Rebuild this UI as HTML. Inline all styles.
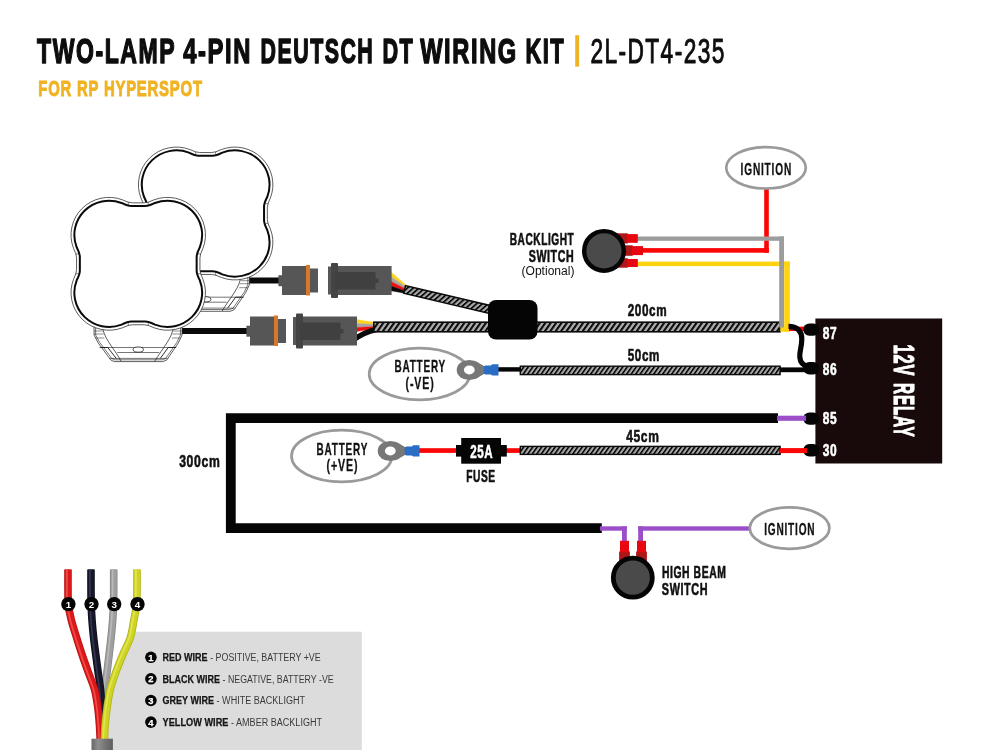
<!DOCTYPE html>
<html lang="en"><head><meta charset="utf-8"><title>Two-Lamp 4-Pin Deutsch DT Wiring Kit</title>
<style>html,body{margin:0;padding:0;background:#fff}body{width:1000px;height:750px;overflow:hidden}svg{display:block;will-change:transform}text{font-family:"Liberation Sans",sans-serif}</style>
</head><body>
<svg width="1000" height="750" viewBox="0 0 1000 750">
<defs>
<pattern id="b1" width="5.4" height="14" patternUnits="userSpaceOnUse" patternTransform="skewX(-35)">
<rect width="5.4" height="14" fill="#a9a9a9"/><rect x="0" width="2.48" height="14" fill="#0a0a0a"/></pattern>
<pattern id="b2" width="4.5" height="14" patternUnits="userSpaceOnUse" patternTransform="skewX(-35)">
<rect width="4.5" height="14" fill="#a9a9a9"/><rect x="0" width="2.07" height="14" fill="#0a0a0a"/></pattern>
<pattern id="b3" width="4.7" height="14" patternUnits="userSpaceOnUse" patternTransform="skewX(-35)">
<rect width="4.7" height="14" fill="#a9a9a9"/><rect x="0" width="2.16" height="14" fill="#0a0a0a"/></pattern>
</defs>
<rect width="1000" height="750" fill="#fff"/>
<text x="37.1" y="62.7" font-size="35.2" font-weight="bold" fill="#0d0d0d" text-anchor="start" textLength="139.1" lengthAdjust="spacingAndGlyphs" letter-spacing="2.4" stroke="#0d0d0d" stroke-width="1.5" stroke-linejoin="round">TWO-LAMP</text>
<text x="183.20000000000002" y="62.7" font-size="35.2" font-weight="bold" fill="#0d0d0d" text-anchor="start" textLength="68.8" lengthAdjust="spacingAndGlyphs" letter-spacing="2.4" stroke="#0d0d0d" stroke-width="1.5" stroke-linejoin="round">4-PIN</text>
<text x="260.59999999999997" y="62.7" font-size="35.2" font-weight="bold" fill="#0d0d0d" text-anchor="start" textLength="113.6" lengthAdjust="spacingAndGlyphs" letter-spacing="2.4" stroke="#0d0d0d" stroke-width="1.5" stroke-linejoin="round">DEUTSCH</text>
<text x="382.4" y="62.7" font-size="35.2" font-weight="bold" fill="#0d0d0d" text-anchor="start" textLength="31.8" lengthAdjust="spacingAndGlyphs" letter-spacing="2.4" stroke="#0d0d0d" stroke-width="1.5" stroke-linejoin="round">DT</text>
<text x="420.2" y="62.7" font-size="35.2" font-weight="bold" fill="#0d0d0d" text-anchor="start" textLength="97.6" lengthAdjust="spacingAndGlyphs" letter-spacing="2.4" stroke="#0d0d0d" stroke-width="1.5" stroke-linejoin="round">WIRING</text>
<text x="525.4" y="62.7" font-size="35.2" font-weight="bold" fill="#0d0d0d" text-anchor="start" textLength="39.8" lengthAdjust="spacingAndGlyphs" letter-spacing="2.4" stroke="#0d0d0d" stroke-width="1.5" stroke-linejoin="round">KIT</text>
<rect x="575.2" y="35.2" width="3.9" height="31.4" fill="#f0b323"/>
<text x="590.4" y="62.7" font-size="35.2" font-weight="normal" fill="#0d0d0d" text-anchor="start" textLength="135.4" lengthAdjust="spacingAndGlyphs" letter-spacing="2.2" stroke="#0d0d0d" stroke-width="1.0" stroke-linejoin="round">2L-DT4-235</text>
<text x="38.3" y="96.3" font-size="22.7" font-weight="bold" fill="#f0b323" text-anchor="start" textLength="164.5" lengthAdjust="spacingAndGlyphs" letter-spacing="1.2" stroke="#f0b323" stroke-width="1.0" stroke-linejoin="round">FOR RP HYPERSPOT</text>
<path d="M131.6,631.7 L130.4,637.3 L122.8,654.7 L115.9,672 L110.3,689.3 L107.2,706.7 L105.2,724 L104.4,750 L361.8,750 L361.8,631.7Z" fill="#dcdcdc"/>
<rect x="248" y="277.5" width="32" height="6" fill="#0a0a0a"/>
<g fill="#fff" stroke="#1a1a1a" stroke-width="0.7" stroke-linejoin="round">
<path d="M161.45,270.7 L161.45,284.7 L165.65,292.7 L178.15,309.7 L181.65,311.3 L230.15,311.3 L234.15,309.7 L245.65,292.7 L249.45,284.7 L249.45,270.7Z"/>
<path d="M163.05,274.7 L163.05,284.7 L167.05,292.09999999999997 L179.35,308.3 L182.05,309.5 L229.65,309.5 L232.95000000000002,308.3 L244.25,292.09999999999997 L247.85000000000002,284.7 L247.85000000000002,274.7" fill="none" stroke-width="0.6"/>
<path d="M170.05,275.7 C170.05,286.7 180.65,296.7 188.65,311.09999999999997" fill="none"/>
<path d="M240.65,275.7 C240.65,286.7 230.65,296.7 222.05,311.09999999999997" fill="none"/>
<path d="M169.05,297.2 L241.65,297.2 M184.65,302.2 L226.65,302.2 M177.05,308.09999999999997 L234.65,308.09999999999997" fill="none" stroke-width="0.6"/>
<path d="M161.65,280.7 h8.6 M161.65,283.7 h9.4 M163.05,287.7 h8.6 M249.25,280.7 h-8.6 M249.25,283.7 h-9.4 M247.85000000000002,287.7 h-8.6" fill="none" stroke-width="0.5"/>
<path d="M167.05,297.2 L175.15,297.2 L183.65,308.09999999999997 M243.65,297.2 L235.65,297.2 L227.65,308.09999999999997" fill="none" stroke-width="0.9"/>
<ellipse cx="205.65" cy="299.3" rx="5.2" ry="2.6" stroke-width="0.8"/>
</g>
<g transform="translate(205.65,213.5) scale(1,0.988) translate(-205.65,-213.5)">
<path d="M211.66,151.80Q215.16,151.80 221.44,148.74A38.00,38.00 0 0 1 270.41,197.71Q267.35,203.99 267.35,207.49L267.35,219.51Q267.35,223.01 270.41,229.29A38.00,38.00 0 0 1 221.44,278.26Q215.16,275.20 211.66,275.20L199.64,275.20Q196.14,275.20 189.86,278.26A38.00,38.00 0 0 1 140.89,229.29Q143.95,223.01 143.95,219.51L143.95,207.49Q143.95,203.99 140.89,197.71A38.00,38.00 0 0 1 189.86,148.74Q196.14,151.80 199.64,151.80Z" fill="#fff" stroke="#333" stroke-width="0.8" stroke-linejoin="round"/>
<path d="M212.60,155.10Q216.10,155.10 222.33,151.94A34.70,34.70 0 0 1 267.21,196.82Q264.05,203.05 264.05,206.55L264.05,220.45Q264.05,223.95 267.21,230.18A34.70,34.70 0 0 1 222.33,275.06Q216.10,271.90 212.60,271.90L198.70,271.90Q195.20,271.90 188.97,275.06A34.70,34.70 0 0 1 144.09,230.18Q147.25,223.95 147.25,220.45L147.25,206.55Q147.25,203.05 144.09,196.82A34.70,34.70 0 0 1 188.97,151.94Q195.20,155.10 198.70,155.10Z" fill="#fff" stroke="#0a0a0a" stroke-width="2" stroke-linejoin="round"/>
<path d="M195.65,151.0v3 M215.65,151.0v3 M195.65,276.0v-3 M215.65,276.0v-3 M143.15,203.5h3 M143.15,223.5h3 M268.15,203.5h-3 M268.15,223.5h-3" stroke="#333" stroke-width="0.6" fill="none"/>
</g>
<rect x="181" y="328" width="67" height="6" fill="#0a0a0a"/>
<g fill="#fff" stroke="#1a1a1a" stroke-width="0.7" stroke-linejoin="round">
<path d="M94.05,321.0 L94.05,335.0 L98.25,343.0 L110.75,360.0 L114.25,361.6 L162.75,361.6 L166.75,360.0 L178.25,343.0 L182.05,335.0 L182.05,321.0Z"/>
<path d="M95.65,325.0 L95.65,335.0 L99.65,342.4 L111.95,358.6 L114.65,359.8 L162.25,359.8 L165.55,358.6 L176.85,342.4 L180.45,335.0 L180.45,325.0" fill="none" stroke-width="0.6"/>
<path d="M102.65,326.0 C102.65,337.0 113.25,347.0 121.25,361.4" fill="none"/>
<path d="M173.25,326.0 C173.25,337.0 163.25,347.0 154.65,361.4" fill="none"/>
<path d="M101.65,347.5 L174.25,347.5 M117.25,352.5 L159.25,352.5 M109.65,358.4 L167.25,358.4" fill="none" stroke-width="0.6"/>
<path d="M94.25,331.0 h8.6 M94.25,334.0 h9.4 M95.65,338.0 h8.6 M181.85,331.0 h-8.6 M181.85,334.0 h-9.4 M180.45,338.0 h-8.6" fill="none" stroke-width="0.5"/>
<path d="M99.65,347.5 L107.75,347.5 L116.25,358.4 M176.25,347.5 L168.25,347.5 L160.25,358.4" fill="none" stroke-width="0.9"/>
<ellipse cx="138.25" cy="349.6" rx="5.2" ry="2.6" stroke-width="0.8"/>
</g>
<g transform="translate(138.25,263.8) scale(1,0.988) translate(-138.25,-263.8)">
<path d="M144.26,202.10Q147.76,202.10 154.04,199.04A38.00,38.00 0 0 1 203.01,248.01Q199.95,254.29 199.95,257.79L199.95,269.81Q199.95,273.31 203.01,279.59A38.00,38.00 0 0 1 154.04,328.56Q147.76,325.50 144.26,325.50L132.24,325.50Q128.74,325.50 122.46,328.56A38.00,38.00 0 0 1 73.49,279.59Q76.55,273.31 76.55,269.81L76.55,257.79Q76.55,254.29 73.49,248.01A38.00,38.00 0 0 1 122.46,199.04Q128.74,202.10 132.24,202.10Z" fill="#fff" stroke="#333" stroke-width="0.8" stroke-linejoin="round"/>
<path d="M145.20,205.40Q148.70,205.40 154.93,202.24A34.70,34.70 0 0 1 199.81,247.12Q196.65,253.35 196.65,256.85L196.65,270.75Q196.65,274.25 199.81,280.48A34.70,34.70 0 0 1 154.93,325.36Q148.70,322.20 145.20,322.20L131.30,322.20Q127.80,322.20 121.57,325.36A34.70,34.70 0 0 1 76.69,280.48Q79.85,274.25 79.85,270.75L79.85,256.85Q79.85,253.35 76.69,247.12A34.70,34.70 0 0 1 121.57,202.24Q127.80,205.40 131.30,205.40Z" fill="#fff" stroke="#0a0a0a" stroke-width="2" stroke-linejoin="round"/>
<path d="M128.25,201.3v3 M148.25,201.3v3 M128.25,326.3v-3 M148.25,326.3v-3 M75.75,253.8h3 M75.75,273.8h3 M200.75,253.8h-3 M200.75,273.8h-3" stroke="#333" stroke-width="0.6" fill="none"/>
</g>
<path d="M391,272.00 L406,285.00 L406,287.10 L391,276.70Z" fill="#ffd21e" stroke="#ffd21e" stroke-width="0.4"/>
<path d="M391,276.70 L406,287.10 L406,289.20 L391,281.40Z" fill="#a6a6a6" stroke="#a6a6a6" stroke-width="0.4"/>
<path d="M391,281.40 L406,289.20 L406,291.30 L391,286.10Z" fill="#ee1111" stroke="#ee1111" stroke-width="0.4"/>
<path d="M391,286.10 L406,291.30 L406,293.40 L391,290.80Z" fill="#0a0a0a" stroke="#0a0a0a" stroke-width="0.4"/>
<path d="M356.5,319.50 L375,322.60 L375,324.60 L356.5,323.50Z" fill="#ffd21e" stroke="#ffd21e" stroke-width="0.4"/>
<path d="M356.5,323.50 L375,324.60 L375,326.60 L356.5,327.50Z" fill="#a6a6a6" stroke="#a6a6a6" stroke-width="0.4"/>
<path d="M356.5,327.50 L375,326.60 L375,328.60 L356.5,331.50Z" fill="#ee1111" stroke="#ee1111" stroke-width="0.4"/>
<path d="M354,339.6 C361,334.5 367,331.5 376,329.6" stroke="#0a0a0a" stroke-width="5.2" fill="none"/>
<rect x="278.4" y="275.2" width="4.6" height="11" fill="#565656"/>
<rect x="282" y="266.0" width="24" height="29" fill="#565656"/>
<rect x="306" y="265.0" width="4" height="30.5" fill="#d8782a"/>
<rect x="310" y="268.5" width="8" height="24" fill="#565656"/>
<rect x="328" y="266.5" width="4" height="28" fill="#565656"/>
<rect x="331" y="263.0" width="7" height="35" rx="1" fill="#444"/>
<rect x="338" y="266.0" width="53.6" height="29" fill="#565656"/>
<rect x="335" y="272.0" width="40.5" height="17.5" fill="#404040"/>
<rect x="375" y="278.5" width="3.5" height="4.5" fill="#404040"/>
<rect x="246.4" y="325.7" width="4.6" height="11" fill="#565656"/>
<rect x="250" y="316.5" width="24" height="29" fill="#565656"/>
<rect x="274" y="315.5" width="4" height="30.5" fill="#d8782a"/>
<rect x="278" y="319" width="8" height="24" fill="#565656"/>
<rect x="293" y="317" width="4" height="28" fill="#565656"/>
<rect x="296" y="313.5" width="7" height="35" rx="1" fill="#444"/>
<rect x="303" y="316.5" width="54" height="29" fill="#565656"/>
<rect x="300" y="322.5" width="40.5" height="17.5" fill="#404040"/>
<rect x="340" y="329" width="3.5" height="4.5" fill="#404040"/>
<g transform="translate(404.6,289.4) rotate(13.244)">
<rect x="0" y="-3.95" width="87.73" height="7.9" fill="url(#b3)" stroke="#0a0a0a" stroke-width="1.5"/>
</g>
<g transform="translate(373.8,327) rotate(0.000)">
<rect x="0" y="-4.8" width="406.20" height="9.6" fill="url(#b1)" stroke="#0a0a0a" stroke-width="1.6"/>
</g>
<rect x="488" y="300" width="49.5" height="39.6" rx="8" fill="#050505"/>
<text x="574.3" y="244.8" font-size="16.4" font-weight="bold" fill="#111" text-anchor="end" textLength="64.6" lengthAdjust="spacingAndGlyphs"  letter-spacing="0.9" stroke="#111" stroke-width="0.6" stroke-linejoin="round">BACKLIGHT</text>
<text x="574.3" y="261.6" font-size="16.4" font-weight="bold" fill="#111" text-anchor="end" textLength="45.6" lengthAdjust="spacingAndGlyphs"  letter-spacing="0.9" stroke="#111" stroke-width="0.6" stroke-linejoin="round">SWITCH</text>
<text x="574.5" y="275" font-size="12" font-weight="normal" fill="#111" text-anchor="end" textLength="53" lengthAdjust="spacingAndGlyphs" >(Optional)</text>
<rect x="764.2" y="188" width="4.6" height="64.8" fill="#fb0505"/><rect x="640" y="248.1" width="128.8" height="4.6" fill="#fb0505"/>
<rect x="636" y="261.6" width="153.8" height="4.5" fill="#ffd30f"/><rect x="784.2" y="261.6" width="5.6" height="70.1" fill="#ffd30f"/>
<rect x="780.3" y="326.8" width="9.5" height="4.9" fill="#ffd30f"/>
<rect x="636" y="236.5" width="148" height="4.3" fill="#9c9c9c"/><rect x="779.2" y="236.5" width="4.8" height="91" fill="#9c9c9c"/>
<rect x="615.8" y="233.3" width="12.0" height="10.2" fill="#ad1717"/>
<rect x="626.8" y="234.10000000000002" width="11.0" height="8.7" fill="#e8060f"/>
<rect x="622" y="245.3" width="10.700000000000045" height="10.5" fill="#ad1717"/>
<rect x="631.7" y="246.10000000000002" width="11.3" height="9.0" fill="#e8060f"/>
<rect x="615.8" y="258.2" width="12.0" height="9.5" fill="#ad1717"/>
<rect x="626.8" y="259.0" width="11.0" height="8.0" fill="#e8060f"/>
<circle cx="604" cy="250.9" r="19.8" fill="#4a4a4a" stroke="#050505" stroke-width="4.4"/>
<ellipse cx="766" cy="167.8" rx="39.8" ry="20.7" fill="#fff" stroke="#9a9a9a" stroke-width="2.7"/>
<text x="740.6" y="174.5" font-size="16.2" font-weight="bold" fill="#111" text-anchor="start" textLength="51.4" lengthAdjust="spacingAndGlyphs" letter-spacing="1.3" stroke="#111" stroke-width="0.3" stroke-linejoin="round">IGNITION</text>
<path d="M789,328.8 H806" stroke="#fb0505" stroke-width="4.4" fill="none"/>
<path d="M788.5,326.4 C797,326.4 801.8,331 801.8,339 C801.8,347 799.4,351 799.8,357 C800.1,362 803,365.8 809,366.8" stroke="#050505" stroke-width="5.2" fill="none"/>
<rect x="815.4" y="318.5" width="126.8" height="145" fill="#180a0a"/>
<rect x="803.3" y="323.40000000000003" width="16" height="12.4" rx="6" fill="#050505"/>
<rect x="803.3" y="362.0" width="16" height="12.4" rx="6" fill="#050505"/>
<rect x="803.3" y="412.40000000000003" width="16" height="12.4" rx="6" fill="#050505"/>
<rect x="803.3" y="444.1" width="16" height="12.4" rx="6" fill="#050505"/>
<text x="822.8" y="339.4" font-size="16.8" font-weight="bold" fill="#fff" text-anchor="start" textLength="14.6" lengthAdjust="spacingAndGlyphs"  letter-spacing="0.9" stroke="#fff" stroke-width="0.6" stroke-linejoin="round">87</text>
<text x="822.8" y="374.8" font-size="16.8" font-weight="bold" fill="#fff" text-anchor="start" textLength="14.6" lengthAdjust="spacingAndGlyphs"  letter-spacing="0.9" stroke="#fff" stroke-width="0.6" stroke-linejoin="round">86</text>
<text x="822.8" y="423.6" font-size="16.8" font-weight="bold" fill="#fff" text-anchor="start" textLength="14.6" lengthAdjust="spacingAndGlyphs"  letter-spacing="0.9" stroke="#fff" stroke-width="0.6" stroke-linejoin="round">85</text>
<text x="822.8" y="455.6" font-size="16.8" font-weight="bold" fill="#fff" text-anchor="start" textLength="14.6" lengthAdjust="spacingAndGlyphs"  letter-spacing="0.9" stroke="#fff" stroke-width="0.6" stroke-linejoin="round">30</text>
<text transform="translate(893.6,345) rotate(90)" font-size="29" font-weight="bold" fill="#fff" stroke="#fff" stroke-width="1.1" stroke-linejoin="round" letter-spacing="1.6"><tspan x="-0.5" textLength="32" lengthAdjust="spacingAndGlyphs">12V</tspan><tspan x="38" textLength="54.6" lengthAdjust="spacingAndGlyphs">RELAY</tspan></text>
<text x="627.7" y="315.7" font-size="17" font-weight="bold" fill="#111" text-anchor="start" textLength="39.6" lengthAdjust="spacingAndGlyphs"  letter-spacing="0.9" stroke="#111" stroke-width="0.6" stroke-linejoin="round">200cm</text>
<text x="627.7" y="360.8" font-size="17" font-weight="bold" fill="#111" text-anchor="start" textLength="32.3" lengthAdjust="spacingAndGlyphs"  letter-spacing="0.9" stroke="#111" stroke-width="0.6" stroke-linejoin="round">50cm</text>
<text x="626.2" y="442" font-size="17" font-weight="bold" fill="#111" text-anchor="start" textLength="33.3" lengthAdjust="spacingAndGlyphs"  letter-spacing="0.9" stroke="#111" stroke-width="0.6" stroke-linejoin="round">45cm</text>
<text x="179.2" y="467" font-size="17" font-weight="bold" fill="#111" text-anchor="start" textLength="41.2" lengthAdjust="spacingAndGlyphs"  letter-spacing="0.9" stroke="#111" stroke-width="0.6" stroke-linejoin="round">300cm</text>
<rect x="498" y="367.2" width="24" height="4.4" fill="#050505"/>
<g transform="translate(520.3,370.4) rotate(0.000)">
<rect x="0" y="-4.2" width="259.80" height="8.4" fill="url(#b2)" stroke="#0a0a0a" stroke-width="1.4"/>
</g>
<rect x="780" y="367.4" width="27" height="4.8" fill="#050505"/>
<ellipse cx="419.5" cy="374" rx="50.3" ry="25.8" fill="#fff" stroke="#9a9a9a" stroke-width="2.7"/>
<text x="394.4" y="371.7" font-size="16.2" font-weight="bold" fill="#111" text-anchor="start" textLength="51.6" lengthAdjust="spacingAndGlyphs" letter-spacing="1.3" stroke="#111" stroke-width="0.3" stroke-linejoin="round">BATTERY</text>
<text x="405.6" y="388.5" font-size="16" font-weight="bold" fill="#111" text-anchor="start" textLength="29" lengthAdjust="spacingAndGlyphs" letter-spacing="1.3" stroke="#111" stroke-width="0.3" stroke-linejoin="round">(-VE)</text>
<ellipse cx="469.3" cy="370" rx="12.6" ry="10.1" fill="#777"/>
<path d="M475.3,361.1 L484.8,366.6 L484.8,373.4 L475.3,378.9Z" fill="#777"/>
<ellipse cx="469.3" cy="369.9" rx="5.4" ry="4.5" fill="#fff"/>
<path d="M483.7,366.4 L485.3,365.6 L490.8,365.6 L492.3,364.3 L498.5,364.3 L498.5,375.4 L492.3,375.4 L490.8,374.4 L485.3,374.4 L483.7,373.6Z" fill="#2a6dc4"/>
<path d="M778,418.1 H230.8 V528.2 H601.8" stroke="#050505" stroke-width="9.8" fill="none" stroke-linejoin="miter"/>
<rect x="777" y="415.7" width="29" height="5.1" fill="#9a4fc8"/>
<ellipse cx="341.7" cy="456" rx="50.2" ry="25.8" fill="#fff" stroke="#9a9a9a" stroke-width="2.7"/>
<text x="316.5" y="454.6" font-size="16.2" font-weight="bold" fill="#111" text-anchor="start" textLength="51.6" lengthAdjust="spacingAndGlyphs" letter-spacing="1.3" stroke="#111" stroke-width="0.3" stroke-linejoin="round">BATTERY</text>
<text x="326.6" y="471.4" font-size="16" font-weight="bold" fill="#111" text-anchor="start" textLength="31.8" lengthAdjust="spacingAndGlyphs" letter-spacing="1.3" stroke="#111" stroke-width="0.3" stroke-linejoin="round">(+VE)</text>
<rect x="419" y="448.2" width="40" height="4.7" fill="#fb0505"/>
<rect x="505" y="448.2" width="16" height="4.7" fill="#fb0505"/>
<ellipse cx="390.3" cy="451" rx="12.6" ry="10.1" fill="#777"/>
<path d="M396.3,442.1 L405.8,447.6 L405.8,454.4 L396.3,459.9Z" fill="#777"/>
<ellipse cx="390.3" cy="450.9" rx="5.4" ry="4.5" fill="#fff"/>
<path d="M404.7,447.4 L406.3,446.6 L411.8,446.6 L413.3,445.3 L419.5,445.3 L419.5,456.4 L413.3,456.4 L411.8,455.4 L406.3,455.4 L404.7,454.6Z" fill="#2a6dc4"/>
<rect x="461.2" y="438" width="39.8" height="25.7" fill="#050505"/><rect x="456" y="445" width="50.8" height="11.6" fill="#050505"/>
<text x="470.2" y="457.9" font-size="17.6" font-weight="bold" fill="#fff" text-anchor="start" textLength="23" lengthAdjust="spacingAndGlyphs"  letter-spacing="0.9" stroke="#fff" stroke-width="0.6" stroke-linejoin="round">25A</text>
<text x="466.2" y="481.9" font-size="16.5" font-weight="bold" fill="#111" text-anchor="start" textLength="29.4" lengthAdjust="spacingAndGlyphs"  letter-spacing="0.9" stroke="#111" stroke-width="0.6" stroke-linejoin="round">FUSE</text>
<g transform="translate(520.3,450.4) rotate(0.000)">
<rect x="0" y="-4.0" width="259.80" height="8.0" fill="url(#b2)" stroke="#0a0a0a" stroke-width="1.4"/>
</g>
<rect x="780" y="448.1" width="27" height="5" fill="#fb0505"/>
<rect x="600" y="526.3" width="26.8" height="4.4" fill="#9a4fc8"/><rect x="622" y="526.3" width="4.8" height="16" fill="#9a4fc8"/>
<rect x="638.2" y="526.3" width="112" height="4.4" fill="#9a4fc8"/><rect x="638.2" y="526.3" width="4.8" height="16" fill="#9a4fc8"/>
<rect x="619.1" y="551.5" width="10.8" height="12" fill="#ad1717"/>
<rect x="620" y="540.8" width="9" height="11.4" fill="#e8060f"/>
<rect x="636.1" y="551.5" width="10.8" height="12" fill="#ad1717"/>
<rect x="637" y="540.8" width="9" height="11.4" fill="#e8060f"/>
<circle cx="632.8" cy="577.7" r="19.5" fill="#4a4a4a" stroke="#050505" stroke-width="4.8"/>
<text x="662" y="577.8" font-size="16.2" font-weight="bold" fill="#111" text-anchor="start" textLength="64.4" lengthAdjust="spacingAndGlyphs"  letter-spacing="0.9" stroke="#111" stroke-width="0.6" stroke-linejoin="round">HIGH BEAM</text>
<text x="661.8" y="594.8" font-size="16.2" font-weight="bold" fill="#111" text-anchor="start" textLength="46.4" lengthAdjust="spacingAndGlyphs"  letter-spacing="0.9" stroke="#111" stroke-width="0.6" stroke-linejoin="round">SWITCH</text>
<ellipse cx="789.6" cy="528.1" rx="39.8" ry="20.7" fill="#fff" stroke="#9a9a9a" stroke-width="2.7"/>
<text x="764.2" y="534.7" font-size="16.2" font-weight="bold" fill="#111" text-anchor="start" textLength="51.2" lengthAdjust="spacingAndGlyphs" letter-spacing="1.3" stroke="#111" stroke-width="0.3" stroke-linejoin="round">IGNITION</text>
<path d="M113.70,569.50C113.70,572.92 113.73,584.08 113.70,590.00C113.67,595.92 113.67,600.00 113.50,605.00C113.33,610.00 113.10,614.62 112.70,620.00C112.30,625.38 111.70,631.52 111.10,637.30C110.50,643.08 109.78,648.92 109.10,654.70C108.42,660.48 107.75,666.23 107.00,672.00C106.25,677.77 105.17,683.52 104.60,689.30C104.03,695.08 103.83,700.92 103.60,706.70C103.37,712.48 103.27,718.45 103.20,724.00C103.13,729.55 103.20,737.33 103.20,740.00" stroke="#858585" stroke-width="7.6" fill="none"/>
<path d="M113.70,569.50C113.70,572.92 113.73,584.08 113.70,590.00C113.67,595.92 113.67,600.00 113.50,605.00C113.33,610.00 113.10,614.62 112.70,620.00C112.30,625.38 111.70,631.52 111.10,637.30C110.50,643.08 109.78,648.92 109.10,654.70C108.42,660.48 107.75,666.23 107.00,672.00C106.25,677.77 105.17,683.52 104.60,689.30C104.03,695.08 103.83,700.92 103.60,706.70C103.37,712.48 103.27,718.45 103.20,724.00C103.13,729.55 103.20,737.33 103.20,740.00" stroke="#9f9f9f" stroke-width="6.0" fill="none"/>
<path d="M113.70,569.50C113.70,572.92 113.73,584.08 113.70,590.00C113.67,595.92 113.67,600.00 113.50,605.00C113.33,610.00 113.10,614.62 112.70,620.00C112.30,625.38 111.70,631.52 111.10,637.30C110.50,643.08 109.78,648.92 109.10,654.70C108.42,660.48 107.75,666.23 107.00,672.00C106.25,677.77 105.17,683.52 104.60,689.30C104.03,695.08 103.83,700.92 103.60,706.70C103.37,712.48 103.27,718.45 103.20,724.00C103.13,729.55 103.20,737.33 103.20,740.00" stroke="#bdbdbd" stroke-width="1.7" fill="none" transform="translate(-1.1,0)" opacity="0.85"/>
<path d="M91.00,569.50C91.00,572.92 90.97,584.08 91.00,590.00C91.03,595.92 91.03,600.00 91.20,605.00C91.37,610.00 91.60,614.62 92.00,620.00C92.40,625.38 92.97,631.52 93.60,637.30C94.23,643.08 95.05,648.92 95.80,654.70C96.55,660.48 97.32,666.23 98.10,672.00C98.88,677.77 99.92,683.52 100.50,689.30C101.08,695.08 101.35,700.92 101.60,706.70C101.85,712.48 101.93,718.45 102.00,724.00C102.07,729.55 102.00,737.33 102.00,740.00" stroke="#0c0c18" stroke-width="7.6" fill="none"/>
<path d="M91.00,569.50C91.00,572.92 90.97,584.08 91.00,590.00C91.03,595.92 91.03,600.00 91.20,605.00C91.37,610.00 91.60,614.62 92.00,620.00C92.40,625.38 92.97,631.52 93.60,637.30C94.23,643.08 95.05,648.92 95.80,654.70C96.55,660.48 97.32,666.23 98.10,672.00C98.88,677.77 99.92,683.52 100.50,689.30C101.08,695.08 101.35,700.92 101.60,706.70C101.85,712.48 101.93,718.45 102.00,724.00C102.07,729.55 102.00,737.33 102.00,740.00" stroke="#17172b" stroke-width="6.0" fill="none"/>
<path d="M91.00,569.50C91.00,572.92 90.97,584.08 91.00,590.00C91.03,595.92 91.03,600.00 91.20,605.00C91.37,610.00 91.60,614.62 92.00,620.00C92.40,625.38 92.97,631.52 93.60,637.30C94.23,643.08 95.05,648.92 95.80,654.70C96.55,660.48 97.32,666.23 98.10,672.00C98.88,677.77 99.92,683.52 100.50,689.30C101.08,695.08 101.35,700.92 101.60,706.70C101.85,712.48 101.93,718.45 102.00,724.00C102.07,729.55 102.00,737.33 102.00,740.00" stroke="#3b3b58" stroke-width="1.7" fill="none" transform="translate(-1.1,0)" opacity="0.85"/>
<path d="M68.00,569.50C68.00,572.92 67.93,584.08 68.00,590.00C68.07,595.92 67.85,600.00 68.40,605.00C68.95,610.00 69.95,614.62 71.30,620.00C72.65,625.38 74.70,631.52 76.50,637.30C78.30,643.08 80.15,648.92 82.10,654.70C84.05,660.48 86.13,666.23 88.20,672.00C90.27,677.77 92.92,683.52 94.50,689.30C96.08,695.08 96.88,700.92 97.70,706.70C98.52,712.48 98.98,718.45 99.40,724.00C99.82,729.55 100.07,737.33 100.20,740.00" stroke="#b81216" stroke-width="7.6" fill="none"/>
<path d="M68.00,569.50C68.00,572.92 67.93,584.08 68.00,590.00C68.07,595.92 67.85,600.00 68.40,605.00C68.95,610.00 69.95,614.62 71.30,620.00C72.65,625.38 74.70,631.52 76.50,637.30C78.30,643.08 80.15,648.92 82.10,654.70C84.05,660.48 86.13,666.23 88.20,672.00C90.27,677.77 92.92,683.52 94.50,689.30C96.08,695.08 96.88,700.92 97.70,706.70C98.52,712.48 98.98,718.45 99.40,724.00C99.82,729.55 100.07,737.33 100.20,740.00" stroke="#dd181b" stroke-width="6.0" fill="none"/>
<path d="M68.00,569.50C68.00,572.92 67.93,584.08 68.00,590.00C68.07,595.92 67.85,600.00 68.40,605.00C68.95,610.00 69.95,614.62 71.30,620.00C72.65,625.38 74.70,631.52 76.50,637.30C78.30,643.08 80.15,648.92 82.10,654.70C84.05,660.48 86.13,666.23 88.20,672.00C90.27,677.77 92.92,683.52 94.50,689.30C96.08,695.08 96.88,700.92 97.70,706.70C98.52,712.48 98.98,718.45 99.40,724.00C99.82,729.55 100.07,737.33 100.20,740.00" stroke="#f4574c" stroke-width="1.7" fill="none" transform="translate(-1.1,0)" opacity="0.85"/>
<path d="M137.00,569.50C137.00,572.92 137.07,584.08 137.00,590.00C136.93,595.92 137.12,600.00 136.60,605.00C136.08,610.00 134.93,614.62 133.90,620.00C132.87,625.38 132.25,631.52 130.40,637.30C128.55,643.08 125.22,648.92 122.80,654.70C120.38,660.48 117.98,666.23 115.90,672.00C113.82,677.77 111.75,683.52 110.30,689.30C108.85,695.08 108.05,700.92 107.20,706.70C106.35,712.48 105.67,718.45 105.20,724.00C104.73,729.55 104.53,737.33 104.40,740.00" stroke="#aeb21c" stroke-width="7.6" fill="none"/>
<path d="M137.00,569.50C137.00,572.92 137.07,584.08 137.00,590.00C136.93,595.92 137.12,600.00 136.60,605.00C136.08,610.00 134.93,614.62 133.90,620.00C132.87,625.38 132.25,631.52 130.40,637.30C128.55,643.08 125.22,648.92 122.80,654.70C120.38,660.48 117.98,666.23 115.90,672.00C113.82,677.77 111.75,683.52 110.30,689.30C108.85,695.08 108.05,700.92 107.20,706.70C106.35,712.48 105.67,718.45 105.20,724.00C104.73,729.55 104.53,737.33 104.40,740.00" stroke="#cfd321" stroke-width="6.0" fill="none"/>
<path d="M137.00,569.50C137.00,572.92 137.07,584.08 137.00,590.00C136.93,595.92 137.12,600.00 136.60,605.00C136.08,610.00 134.93,614.62 133.90,620.00C132.87,625.38 132.25,631.52 130.40,637.30C128.55,643.08 125.22,648.92 122.80,654.70C120.38,660.48 117.98,666.23 115.90,672.00C113.82,677.77 111.75,683.52 110.30,689.30C108.85,695.08 108.05,700.92 107.20,706.70C106.35,712.48 105.67,718.45 105.20,724.00C104.73,729.55 104.53,737.33 104.40,740.00" stroke="#e4e85e" stroke-width="1.7" fill="none" transform="translate(-1.1,0)" opacity="0.85"/>
<defs><linearGradient id="sh" x1="0" x2="1" y1="0" y2="0"><stop offset="0" stop-color="#666"/><stop offset="0.3" stop-color="#8e8e8e"/><stop offset="0.6" stop-color="#787878"/><stop offset="1" stop-color="#5e5e5e"/></linearGradient></defs>
<rect x="91.5" y="738.7" width="21.4" height="12" fill="url(#sh)"/>
<circle cx="68.4" cy="604.1" r="7.2" fill="#050505"/>
<text x="68.4" y="607.6" font-size="9.8" font-weight="bold" fill="#fff" text-anchor="middle" >1</text>
<circle cx="91.5" cy="604.1" r="7.2" fill="#050505"/>
<text x="91.5" y="607.6" font-size="9.8" font-weight="bold" fill="#fff" text-anchor="middle" >2</text>
<circle cx="114.2" cy="604.1" r="7.2" fill="#050505"/>
<text x="114.2" y="607.6" font-size="9.8" font-weight="bold" fill="#fff" text-anchor="middle" >3</text>
<circle cx="137.5" cy="604.1" r="7.2" fill="#050505"/>
<text x="137.5" y="607.6" font-size="9.8" font-weight="bold" fill="#fff" text-anchor="middle" >4</text>
<circle cx="150.9" cy="657.3" r="5.8" fill="#050505"/>
<text x="150.9" y="660.7" font-size="9.4" font-weight="bold" fill="#fff" text-anchor="middle"  stroke="#fff" stroke-width="0.25" stroke-linejoin="round">1</text>
<text x="162.6" y="661" font-size="10" font-weight="bold" fill="#151515" text-anchor="start" textLength="45.0" lengthAdjust="spacingAndGlyphs"  stroke="#151515" stroke-width="0.25" stroke-linejoin="round">RED WIRE</text>
<text x="210.2" y="661" font-size="10" font-weight="normal" fill="#3a3a3a" text-anchor="start" textLength="110.5" lengthAdjust="spacingAndGlyphs" >- POSITIVE, BATTERY +VE</text>
<circle cx="150.9" cy="678.8" r="5.8" fill="#050505"/>
<text x="150.9" y="682.2" font-size="9.4" font-weight="bold" fill="#fff" text-anchor="middle"  stroke="#fff" stroke-width="0.25" stroke-linejoin="round">2</text>
<text x="162.6" y="682.5" font-size="10" font-weight="bold" fill="#151515" text-anchor="start" textLength="57.4" lengthAdjust="spacingAndGlyphs"  stroke="#151515" stroke-width="0.25" stroke-linejoin="round">BLACK WIRE</text>
<text x="222.6" y="682.5" font-size="10" font-weight="normal" fill="#3a3a3a" text-anchor="start" textLength="111.1" lengthAdjust="spacingAndGlyphs" >- NEGATIVE, BATTERY -VE</text>
<circle cx="150.9" cy="700.5" r="5.8" fill="#050505"/>
<text x="150.9" y="703.9000000000001" font-size="9.4" font-weight="bold" fill="#fff" text-anchor="middle"  stroke="#fff" stroke-width="0.25" stroke-linejoin="round">3</text>
<text x="162.6" y="704.2" font-size="10" font-weight="bold" fill="#151515" text-anchor="start" textLength="51.4" lengthAdjust="spacingAndGlyphs"  stroke="#151515" stroke-width="0.25" stroke-linejoin="round">GREY WIRE</text>
<text x="216.6" y="704.2" font-size="10" font-weight="normal" fill="#3a3a3a" text-anchor="start" textLength="88.4" lengthAdjust="spacingAndGlyphs" >- WHITE BACKLIGHT</text>
<circle cx="150.9" cy="722.0999999999999" r="5.8" fill="#050505"/>
<text x="150.9" y="725.5" font-size="9.4" font-weight="bold" fill="#fff" text-anchor="middle"  stroke="#fff" stroke-width="0.25" stroke-linejoin="round">4</text>
<text x="162.6" y="725.8" font-size="10" font-weight="bold" fill="#151515" text-anchor="start" textLength="65.8" lengthAdjust="spacingAndGlyphs"  stroke="#151515" stroke-width="0.25" stroke-linejoin="round">YELLOW WIRE</text>
<text x="231.0" y="725.8" font-size="10" font-weight="normal" fill="#3a3a3a" text-anchor="start" textLength="91.0" lengthAdjust="spacingAndGlyphs" >- AMBER BACKLIGHT</text>
</svg></body></html>
